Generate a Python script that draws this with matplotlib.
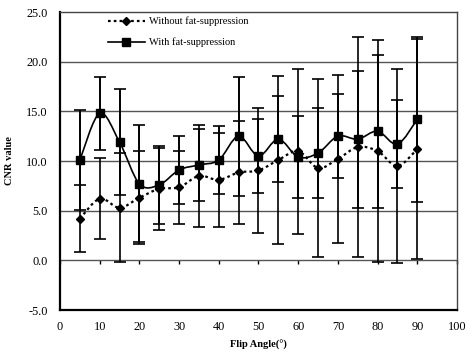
import numpy as np
import matplotlib.pyplot as plt
from matplotlib.path import Path
from matplotlib.patches import PathPatch
from matplotlib.lines import Line2D

plt.rcParams['font.family'] = ['Liberation Serif', 'DejaVu Serif']

# flip angle (degrees)
angle = [5, 10, 15, 20, 25, 30, 35, 40, 45, 50, 55, 60, 65, 70, 75, 80, 85, 90]

# CNR with fat-suppression, mean and SD
cnr_fs = [10.1, 14.8, 11.9, 7.7, 7.6, 9.1, 9.6, 10.1, 12.5, 10.5, 12.2, 10.4,
          10.8, 12.5, 12.2, 13.0, 11.7, 14.2]
sd_fs = [5.0, 3.7, 5.3, 5.9, 3.9, 3.45, 3.6, 3.4, 6.0, 3.7, 4.35, 4.1,
         4.5, 4.25, 6.9, 7.7, 4.45, 8.3]

# CNR without fat-suppression, mean and SD
cnr_nofs = [4.2, 6.2, 5.3, 6.3, 7.2, 7.35, 8.5, 8.1, 8.85, 9.05, 10.1, 11.0,
            9.3, 10.2, 11.4, 11.0, 9.5, 11.2]
sd_nofs = [3.4, 4.1, 5.5, 4.7, 4.1, 3.65, 5.1, 4.7, 5.15, 6.25, 8.5, 8.3,
           9.0, 8.5, 11.1, 11.2, 9.8, 11.1]


def smooth_path(x, y):
    # Bezier curve through the points (spreadsheet-style smoothed line)
    p = np.column_stack([x, y]).astype(float)
    n = len(p)
    verts = [p[0]]
    codes = [Path.MOVETO]
    for i in range(n - 1):
        prev = p[max(i - 1, 0)]
        nxt = p[min(i + 2, n - 1)]
        c1 = p[i] + (p[i + 1] - prev) / 6.0
        c2 = p[i + 1] - (nxt - p[i]) / 6.0
        verts += [c1, c2, p[i + 1]]
        codes += [Path.CURVE4] * 3
    return Path(verts, codes)


fig = plt.figure(figsize=(4.74, 3.52), dpi=100)
ax = fig.add_axes([0.1266, 0.1193, 0.8375, 0.8466])

for yv in [0, 5, 10, 15, 20]:
    ax.axhline(yv, color='#555555', lw=1.0, zorder=1)

# error bars
ax.errorbar(angle, cnr_nofs, yerr=sd_nofs, fmt='none', ecolor='black',
            elinewidth=1.2, capsize=4.5, capthick=1.2, zorder=2)
ax.errorbar(angle, cnr_fs, yerr=sd_fs, fmt='none', ecolor='black',
            elinewidth=1.4, capsize=4.5, capthick=1.2, zorder=2)

# smoothed lines
ax.add_patch(PathPatch(smooth_path(angle, cnr_nofs), fill=False, ec='black',
                       lw=1.6, ls=(0, (1.2, 1.4)), zorder=3))
ax.add_patch(PathPatch(smooth_path(angle, cnr_fs), fill=False, ec='black',
                       lw=1.2, zorder=3))

ax.plot(angle, cnr_nofs, ls='none', marker='D', ms=4.5, color='black', zorder=4)
ax.plot(angle, cnr_fs, ls='none', marker='s', ms=5.5, color='black', zorder=4)

ax.set_xlim(0, 100)
ax.set_ylim(-5, 25)
ax.set_xticks(range(0, 101, 10))
ax.set_yticks(np.arange(-5, 25.1, 5))
ax.set_yticklabels(['%.1f' % v for v in np.arange(-5, 25.1, 5)])
ax.tick_params(axis='both', length=0, labelsize=8.8)
ax.tick_params(axis='x', pad=8)
ax.tick_params(axis='y', pad=9)

# small tick marks on the zero line
sec = ax.secondary_xaxis(1 / 6.0)
sec.set_xticks(range(0, 101, 10))
sec.tick_params(length=3, direction='out', labelbottom=False, width=1)
sec.spines['bottom'].set_visible(False)

for s in ['left', 'bottom']:
    ax.spines[s].set_linewidth(1.6)
    ax.spines[s].set_color('black')
for s in ['top', 'right']:
    ax.spines[s].set_linewidth(1.0)
    ax.spines[s].set_color('#444444')

ax.set_xlabel('Flip Angle(°)', fontsize=7.5, fontweight='bold', labelpad=5)
ax.set_ylabel('CNR value', fontsize=7.5, fontweight='bold', labelpad=9)

handles = [
    Line2D([], [], color='black', lw=1.6, ls=(0, (1.2, 1.4)), marker='D', ms=4.5),
    Line2D([], [], color='black', lw=1.2, marker='s', ms=5.5),
]
ax.legend(handles, ['Without fat-suppression', 'With fat-suppression'],
          loc='upper left', bbox_to_anchor=(0.12, 0.985), frameon=False,
          fontsize=7.5, handlelength=3.6, handletextpad=0.4, labelspacing=1.1,
          borderpad=0, borderaxespad=0)

fig.savefig('out.png', dpi=100)
